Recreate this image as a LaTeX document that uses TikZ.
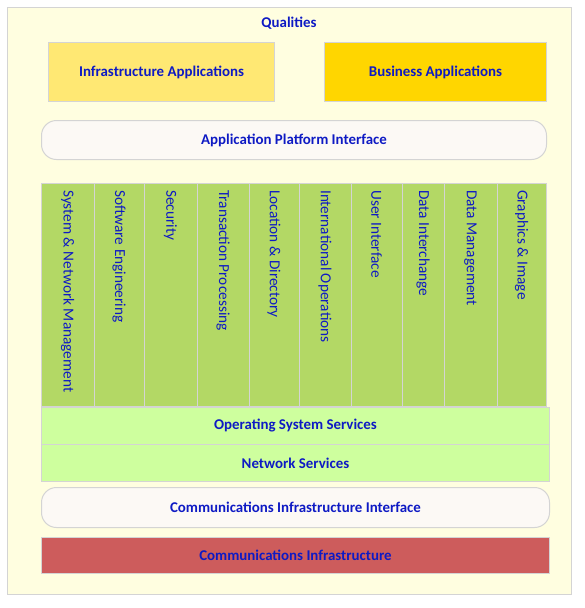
\documentclass[tikz,border=0pt]{standalone}
\usepackage{fontspec}
\setmainfont{Carlito}
\definecolor{txt}{RGB}{14,26,196}
\definecolor{edge}{RGB}{212,212,212}
\definecolor{frameFill}{RGB}{255,254,224}
\definecolor{infraFill}{RGB}{255,232,115}
\definecolor{busFill}{RGB}{255,214,0}
\definecolor{ifaceFill}{RGB}{252,249,245}
\definecolor{colFill}{RGB}{179,216,101}
\definecolor{svcFill}{RGB}{206,255,158}
\definecolor{ciFill}{RGB}{205,92,92}
\tikzset{
  box/.style={draw=edge, line width=1pt, text=txt, font=\bfseries\fontsize{14.9}{17}\selectfont, inner sep=0pt, anchor=north west},
  iface/.style={box, rounded corners=15pt, fill=ifaceFill},
  colbox/.style={draw=edge, line width=1pt, fill=colFill, inner sep=0pt, anchor=north west, minimum width=#1, minimum height=223pt},
  coltext/.style={text=txt, font=\fontsize{15.3}{17}\selectfont, rotate=-90, anchor=west, inner sep=0pt},
  svc/.style={box, fill=svcFill, minimum width=508pt, minimum height=37pt}
}
\begin{document}
\begin{tikzpicture}[x=1pt,y=-1pt]
\useasboundingbox (0,0) rectangle (584,608);
\node[draw=edge, line width=1pt, fill=frameFill, anchor=north west, inner sep=0pt, minimum width=564pt, minimum height=587pt] (frame) at (7,7) {};
\node[text=txt, font=\bfseries\fontsize{14.9}{17}\selectfont] (qual) at (289,23) {Qualities};
\node[box, fill=infraFill, minimum width=226pt, minimum height=59pt] (infra) at (48,42) {Infrastructure Applications};
\node[box, fill=busFill, minimum width=222pt, minimum height=59pt] (bus) at (324,42) {Business Applications};
\node[iface, minimum width=505pt, minimum height=39pt] (api) at (41,120) {Application Platform Interface};
% columns
\node[colbox=53pt] (c1) at (41,183) {};
\node[colbox=50pt] (c2) at (94,183) {};
\node[colbox=53pt] (c3) at (144,183) {};
\node[colbox=52pt] (c4) at (197,183) {};
\node[colbox=50pt] (c5) at (249,183) {};
\node[colbox=52pt] (c6) at (299,183) {};
\node[colbox=51pt] (c7) at (351,183) {};
\node[colbox=42pt] (c8) at (402,183) {};
\node[colbox=53pt] (c9) at (444,183) {};
\node[colbox=49pt] (c10) at (497,183) {};
\node[coltext] (t1) at (67.5,190) {System \& Network Management};
\node[coltext] (t2) at (119,190) {Software Engineering};
\node[coltext] (t3) at (170.5,190) {Security};
\node[coltext] (t4) at (223,190) {Transaction Processing};
\node[coltext] (t5) at (274,190) {Location \& Directory};
\node[coltext] (t6) at (325,190) {International Operations};
\node[coltext] (t7) at (376.5,190) {User Interface};
\node[coltext] (t8) at (423,190) {Data Interchange};
\node[coltext] (t9) at (470.5,190) {Data Management};
\node[coltext] (t10) at (521.5,190) {Graphics \& Image};
\node[svc] (os) at (41,407) {Operating System Services};
\node[svc] (net) at (41,444) {Network Services};
\node[iface, minimum width=508pt, minimum height=40pt] (cii) at (41,487) {Communications Infrastructure Interface};
\node[box, fill=ciFill, minimum width=508pt, minimum height=36pt] (ci) at (41,537) {Communications Infrastructure};
\end{tikzpicture}
\end{document}
